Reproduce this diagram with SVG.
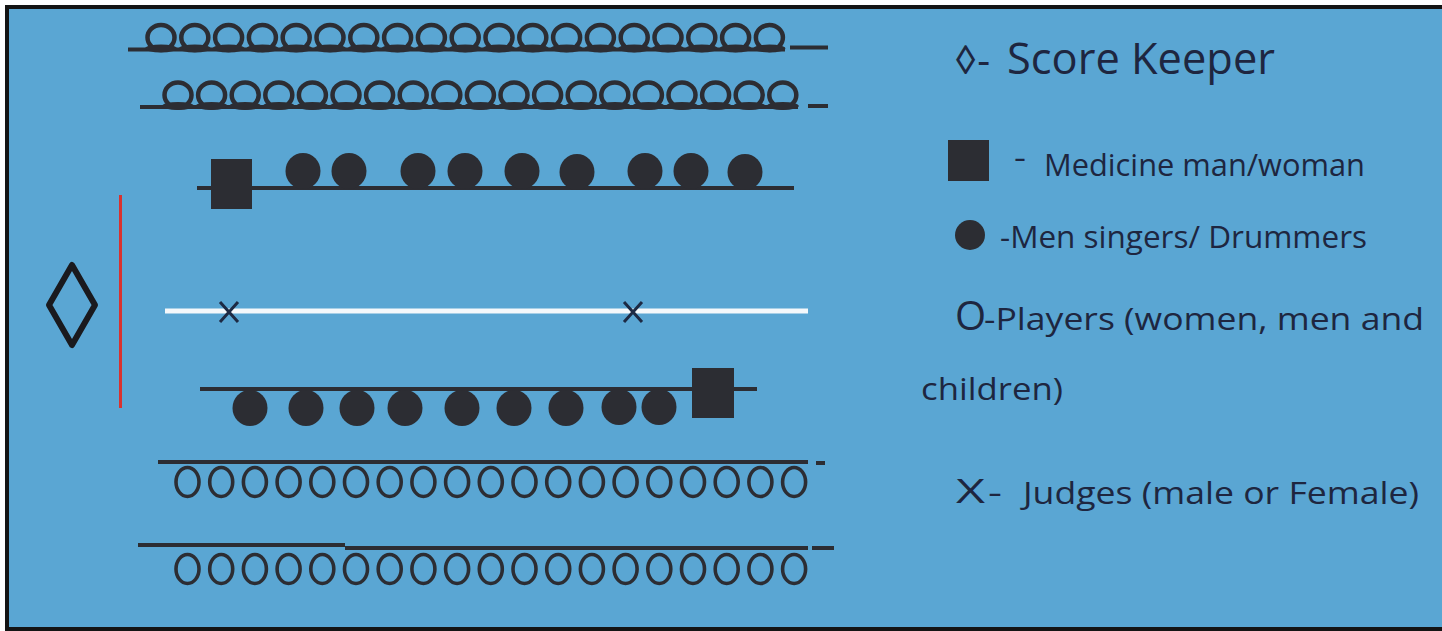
<svg xmlns="http://www.w3.org/2000/svg" xmlns:xlink="http://www.w3.org/1999/xlink" width="1442" height="631" viewBox="0 0 1442 631">
<style>
.ink{fill:#2c2d33}
.ostroke{fill:none;stroke:#2c2d33}
.bar{stroke:#2c2d33;stroke-width:4;fill:none}
.lbl{font-family:"Open Sans","Noto Sans","Liberation Sans",sans-serif;fill:#1e2640}
</style>
<defs>
<g id="oTop">
<ellipse cx="0" cy="0" rx="13.5" ry="12.5" class="ostroke" stroke-width="4.5"/>
<ellipse cx="0" cy="11" rx="16" ry="4" class="ink"/>
</g>
<g id="oLow">
<ellipse cx="0" cy="0" rx="11.5" ry="14.5" class="ostroke" stroke-width="3.6"/>
</g>
<g id="drum">
<ellipse cx="0" cy="0" rx="17.5" ry="18" class="ink"/>
</g>
</defs>

<rect x="0" y="0" width="1442" height="631" fill="#ffffff"/>
<rect x="5" y="5" width="1437" height="626" fill="#141414"/>
<rect x="9" y="9" width="1440" height="618" fill="#5aa6d3"/>

<g id="connectors">
<line class="bar" x1="128" y1="49.5" x2="785" y2="49.5"/>
<line class="bar" x1="790" y1="47.5" x2="828" y2="47.5"/>
<line class="bar" x1="140" y1="107" x2="798" y2="107"/>
<line class="bar" x1="808" y1="106" x2="828" y2="106"/>
<line class="bar" x1="197" y1="188" x2="794" y2="188" stroke-width="3.5"/>
<line class="bar" x1="200" y1="389" x2="757" y2="389" stroke-width="3.5"/>
<line class="bar" x1="158" y1="462" x2="808" y2="462"/>
<line class="bar" x1="816" y1="463" x2="825" y2="463"/>
<line class="bar" x1="138" y1="545" x2="345" y2="545"/>
<line class="bar" x1="345" y1="548" x2="808" y2="548"/>
<line class="bar" x1="812" y1="548" x2="834" y2="548"/>
<line x1="165" y1="311" x2="808" y2="311" stroke="#f4f8fb" stroke-width="5"/>
<line x1="120.5" y1="195" x2="120.5" y2="408" stroke="#d8322f" stroke-width="3"/>
</g>

<g id="row-players-1">
<use href="#oTop" x="161" y="37.5"/><use href="#oTop" x="194.8" y="37.5"/><use href="#oTop" x="228.6" y="37.5"/><use href="#oTop" x="262.4" y="37.5"/><use href="#oTop" x="296.2" y="37.5"/><use href="#oTop" x="330" y="37.5"/><use href="#oTop" x="363.8" y="37.5"/><use href="#oTop" x="397.6" y="37.5"/><use href="#oTop" x="431.4" y="37.5"/><use href="#oTop" x="465.2" y="37.5"/><use href="#oTop" x="499" y="37.5"/><use href="#oTop" x="532.8" y="37.5"/><use href="#oTop" x="566.6" y="37.5"/><use href="#oTop" x="600.4" y="37.5"/><use href="#oTop" x="634.2" y="37.5"/><use href="#oTop" x="668" y="37.5"/><use href="#oTop" x="701.8" y="37.5"/><use href="#oTop" x="735.6" y="37.5"/><use href="#oTop" x="769.4" y="37.5"/>
</g>
<g id="row-players-2">
<use href="#oTop" x="178" y="95"/><use href="#oTop" x="211.6" y="95"/><use href="#oTop" x="245.2" y="95"/><use href="#oTop" x="278.8" y="95"/><use href="#oTop" x="312.4" y="95"/><use href="#oTop" x="346" y="95"/><use href="#oTop" x="379.6" y="95"/><use href="#oTop" x="413.2" y="95"/><use href="#oTop" x="446.8" y="95"/><use href="#oTop" x="480.4" y="95"/><use href="#oTop" x="514" y="95"/><use href="#oTop" x="547.6" y="95"/><use href="#oTop" x="581.2" y="95"/><use href="#oTop" x="614.8" y="95"/><use href="#oTop" x="648.4" y="95"/><use href="#oTop" x="682" y="95"/><use href="#oTop" x="715.6" y="95"/><use href="#oTop" x="749.2" y="95"/><use href="#oTop" x="782.8" y="95"/>
</g>

<g id="row-drummers-top">
<rect id="medicine-top" x="211" y="159" width="41" height="50" class="ink"/>
<use href="#drum" x="303" y="171"/><use href="#drum" x="349" y="171"/><use href="#drum" x="418" y="171"/><use href="#drum" x="465" y="171"/><use href="#drum" x="522" y="171"/><use href="#drum" x="577" y="172"/><use href="#drum" x="645" y="171"/><use href="#drum" x="691" y="171"/><use href="#drum" x="745" y="172"/>
</g>

<g id="score-keeper">
<polygon points="72,265 95,305 72,345 49,305" fill="none" stroke="#1a1a1e" stroke-width="6" stroke-linejoin="round"/>
</g>

<g id="judges">
<path d="M220,302 L238,322 M238,302 L220,322" stroke="#1d2a44" stroke-width="3" fill="none"/>
<path d="M624,302 L642,322 M642,302 L624,322" stroke="#1d2a44" stroke-width="3" fill="none"/>
</g>

<g id="row-drummers-bottom">
<use href="#drum" x="250" y="408"/><use href="#drum" x="306" y="408"/><use href="#drum" x="357" y="408"/><use href="#drum" x="405" y="408"/><use href="#drum" x="462" y="408"/><use href="#drum" x="514" y="408"/><use href="#drum" x="566" y="408"/><use href="#drum" x="619" y="407"/><use href="#drum" x="659" y="407"/>
<rect id="medicine-bottom" x="692" y="368" width="42" height="50" class="ink"/>
</g>

<g id="row-players-3">
<use href="#oLow" x="187.5" y="482"/><use href="#oLow" x="221.2" y="482"/><use href="#oLow" x="254.9" y="482"/><use href="#oLow" x="288.6" y="482"/><use href="#oLow" x="322.3" y="482"/><use href="#oLow" x="356" y="482"/><use href="#oLow" x="389.7" y="482"/><use href="#oLow" x="423.4" y="482"/><use href="#oLow" x="457.1" y="482"/><use href="#oLow" x="490.8" y="482"/><use href="#oLow" x="524.5" y="482"/><use href="#oLow" x="558.2" y="482"/><use href="#oLow" x="591.9" y="482"/><use href="#oLow" x="625.6" y="482"/><use href="#oLow" x="659.3" y="482"/><use href="#oLow" x="693" y="482"/><use href="#oLow" x="726.7" y="482"/><use href="#oLow" x="760.4" y="482"/><use href="#oLow" x="794.1" y="482"/>
</g>
<g id="row-players-4">
<use href="#oLow" x="187.5" y="569"/><use href="#oLow" x="221.2" y="569"/><use href="#oLow" x="254.9" y="569"/><use href="#oLow" x="288.6" y="569"/><use href="#oLow" x="322.3" y="569"/><use href="#oLow" x="356" y="569"/><use href="#oLow" x="389.7" y="569"/><use href="#oLow" x="423.4" y="569"/><use href="#oLow" x="457.1" y="569"/><use href="#oLow" x="490.8" y="569"/><use href="#oLow" x="524.5" y="569"/><use href="#oLow" x="558.2" y="569"/><use href="#oLow" x="591.9" y="569"/><use href="#oLow" x="625.6" y="569"/><use href="#oLow" x="659.3" y="569"/><use href="#oLow" x="693" y="569"/><use href="#oLow" x="726.7" y="569"/><use href="#oLow" x="760.4" y="569"/><use href="#oLow" x="794.1" y="569"/>
</g>

<g id="legend-score-keeper">
<text class="lbl" x="954" y="74" font-size="40">◊-</text>
<text class="lbl" x="1007" y="74" font-size="43" textLength="268" lengthAdjust="spacingAndGlyphs">Score Keeper</text>
</g>
<g id="legend-medicine">
<rect x="948" y="140" width="41" height="41" class="ink"/>
<text class="lbl" x="1014" y="168" font-size="31" textLength="12" lengthAdjust="spacingAndGlyphs">-</text>
<text class="lbl" x="1044" y="176" font-size="31" textLength="321" lengthAdjust="spacingAndGlyphs">Medicine man/woman</text>
</g>
<g id="legend-drummers">
<circle cx="970" cy="235" r="15" class="ink"/>
<text class="lbl" x="1000" y="248" font-size="31" textLength="367" lengthAdjust="spacingAndGlyphs">-Men singers/ Drummers</text>
</g>
<g id="legend-players">
<text class="lbl" x="955" y="330" font-size="40">O</text>
<text class="lbl" x="984" y="330" font-size="31" textLength="440" lengthAdjust="spacingAndGlyphs">-Players (women, men and</text>
<text class="lbl" x="921" y="400" font-size="31" textLength="142" lengthAdjust="spacingAndGlyphs">children)</text>
</g>
<g id="legend-judges">
<text class="lbl" x="956" y="503" font-size="33" textLength="29" lengthAdjust="spacingAndGlyphs">X</text>
<text class="lbl" x="988" y="503" font-size="31" textLength="14" lengthAdjust="spacingAndGlyphs">-</text>
<text class="lbl" x="1023" y="504" font-size="31" textLength="396" lengthAdjust="spacingAndGlyphs">Judges (male or Female)</text>
</g>
</svg>
